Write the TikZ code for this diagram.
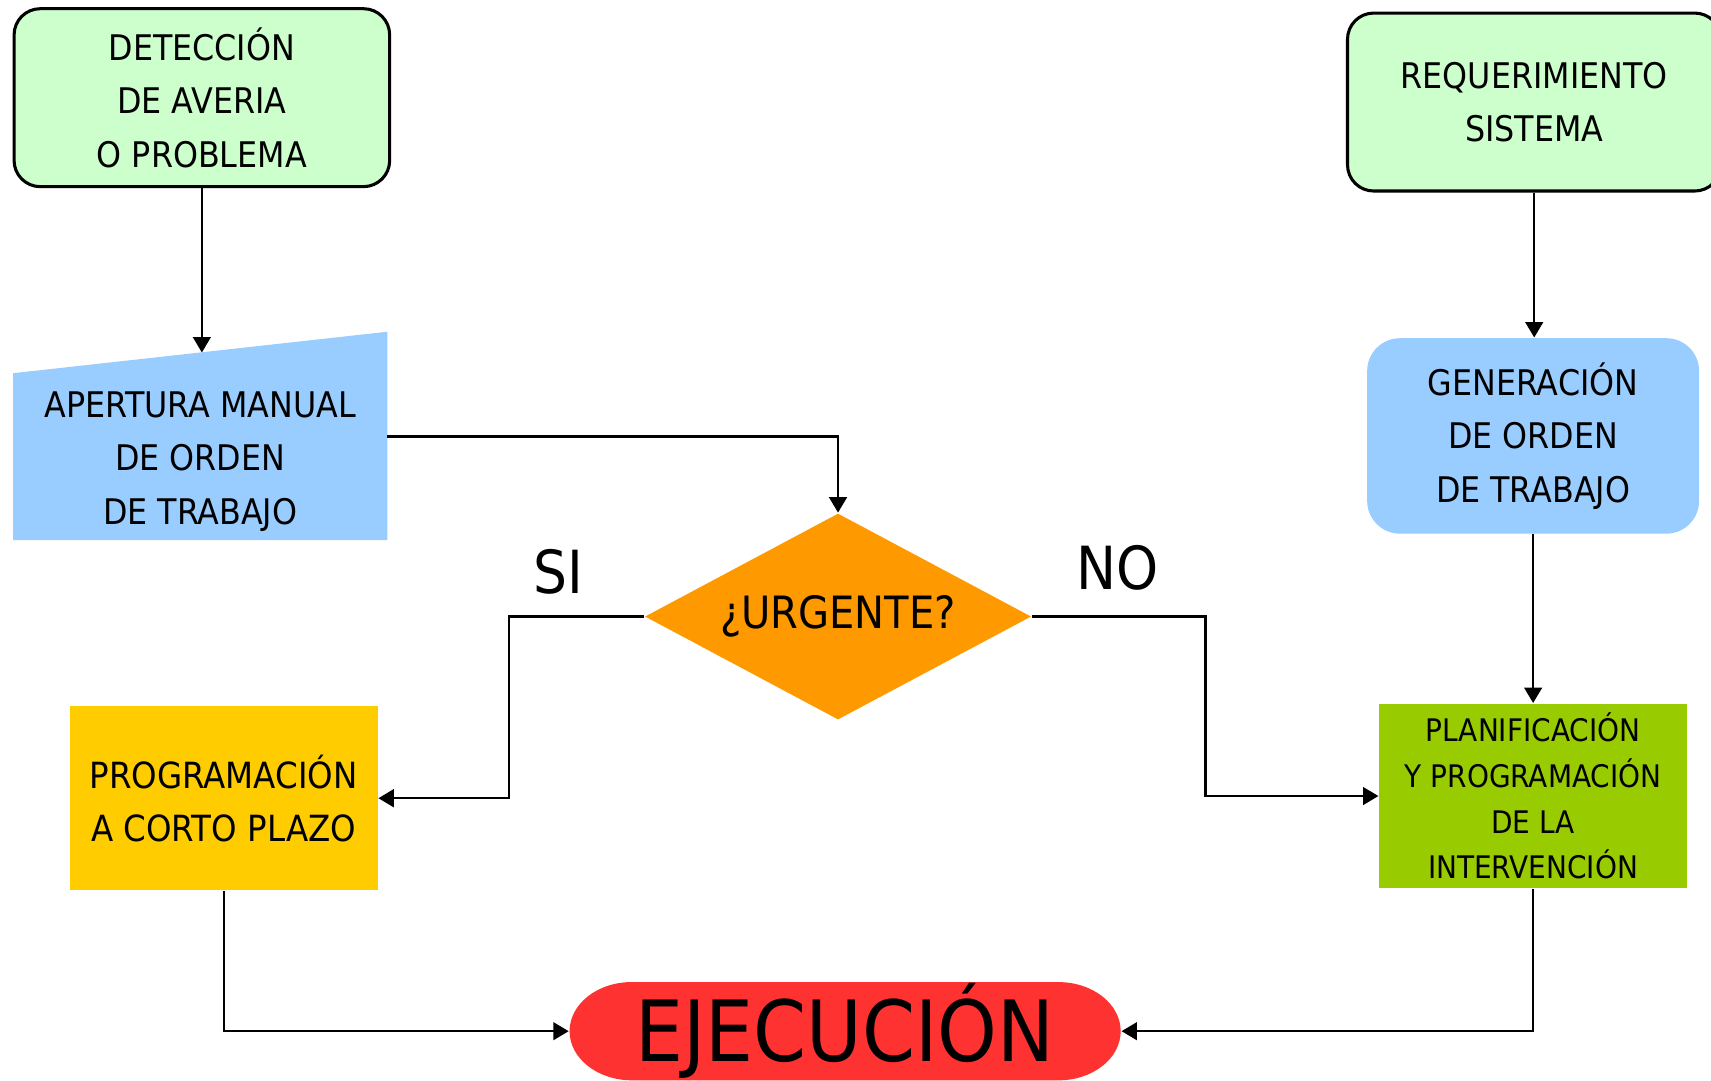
\documentclass[tikz,border=0pt]{standalone}
\usepackage{fontspec}
\setmainfont{DejaVu Sans Condensed}
\usetikzlibrary{shapes.geometric,arrows.meta}
\definecolor{verdeclaro}{HTML}{CCFFCC}
\definecolor{azul}{HTML}{99CCFF}
\definecolor{naranja}{HTML}{FF9900}
\definecolor{amarillo}{HTML}{FFCC00}
\definecolor{verde}{HTML}{99CC00}
\definecolor{rojo}{RGB}{255,50,50}
\tikzset{
  caja/.style={rectangle, align=center, inner sep=0pt, font=\fontsize{9.2}{13.9}\selectfont},
  inicio/.style={caja, draw, line width=0.8pt, fill=verdeclaro, rounded corners=2.4mm},
  flecha/.style={-{Triangle[length=4pt,width=4.6pt]}, line width=0.6pt},
  etiqueta/.style={font=\fontsize{15.5}{18}\selectfont},
}
\begin{document}
\begin{tikzpicture}[x=0.01cm,y=-0.01cm]
\useasboundingbox (0,0) rectangle (1568,990);

\node[inicio, minimum width=3.44cm, minimum height=1.63cm] (det) at (185,89.5) {DETECCIÓN\\DE AVERIA\\O PROBLEMA};
\node[inicio, minimum width=3.42cm, minimum height=1.63cm] (req) at (1406,93.5) {REQUERIMIENTO\\SISTEMA};

\fill[azul] (12,342) -- (355,304) -- (355,495) -- (12,495) -- cycle;
\node[caja, minimum width=3.43cm] (apert) at (183.5,423) {APERTURA MANUAL\\DE ORDEN\\DE TRABAJO};
\coordinate (apert-top) at (185,323);
\coordinate (apert-out) at (355,400);

\node[caja, fill=azul, rounded corners=3mm, minimum width=3.04cm, minimum height=1.79cm] (gen) at (1405,399.5) {GENERACIÓN\\DE ORDEN\\DE TRABAJO};

\node[diamond, fill=naranja, inner sep=0pt, aspect=1.87, minimum width=3.54cm, minimum height=1.89cm,
  font=\fontsize{11.6}{14}\selectfont] (urg) at (768,565) {¿URGENTE?};
\node[etiqueta] (si) at (512,524) {SI};
\node[etiqueta] (no) at (1024,520) {NO};

\node[caja, fill=amarillo, minimum width=2.82cm, minimum height=1.69cm, font=\fontsize{9.4}{13.9}\selectfont] (prog) at (205,731.5) {PROGRAMACIÓN\\A CORTO PLAZO};
\node[caja, fill=verde, minimum width=2.82cm, minimum height=1.69cm, font=\fontsize{8.1}{11.9}\selectfont] (plan) at (1405,729.5) {PLANIFICACIÓN\\Y PROGRAMACIÓN\\DE LA\\INTERVENCIÓN};

\fill[rojo] (579,900) -- (970,900) arc[start angle=90, end angle=-90, x radius=5.7mm, y radius=4.5mm]
  -- (579,990) arc[start angle=270, end angle=90, x radius=5.7mm, y radius=4.5mm] -- cycle;
\node[minimum width=5.05cm, minimum height=0.9cm, inner sep=0pt, font=\fontsize{22}{26}\selectfont] (ejec) at (774.5,945) {\raisebox{-1.2mm}{EJECUCIÓN}};

\draw[flecha] (det.south) -- (apert-top);
\foreach \desde/\hasta in {req/gen, gen/plan}
  \draw[flecha] (\desde.south) -- (\desde.south |- \hasta.north);
\draw[flecha] (apert-out) -| (urg.north);
\draw[flecha] (urg.west) -- ++(-124,0) |- (prog.east);
\draw[flecha] (urg.east) -- ++(159,0) |- (plan.west);
\draw[flecha] (prog.south) |- (ejec.west);
\draw[flecha] (plan.south) |- (ejec.east);

\end{tikzpicture}
\end{document}
